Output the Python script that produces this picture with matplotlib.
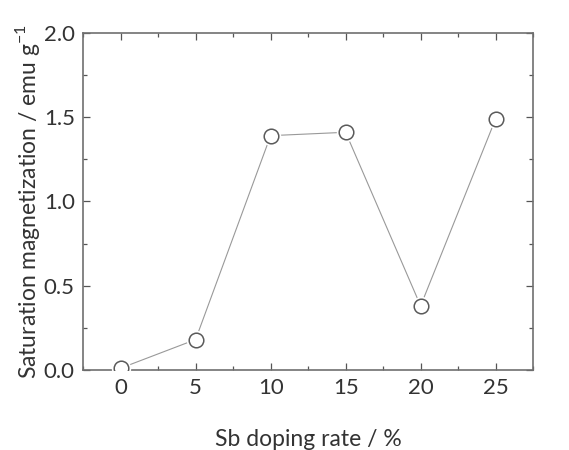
import numpy as np
import matplotlib.pyplot as plt
from matplotlib.ticker import MultipleLocator

# Data
dopingRate = [0, 5, 10, 15, 20, 25]
satMag     = [0.01, 0.18, 1.39, 1.41, 0.38, 1.49]

plt.rcParams['font.family'] = ['Lato', 'DejaVu Sans']
plt.rcParams['mathtext.fontset'] = 'custom'
plt.rcParams['mathtext.rm'] = 'Lato'

fig = plt.figure(figsize=(5.69, 4.5), dpi=100)
ax = fig.add_axes([0.146, 0.178, 0.791, 0.749])

ax.plot(dopingRate, satMag, color="#999999", lw=0.8, zorder=2)
# white halo so the line stops short of each marker
ax.plot(dopingRate, satMag, ls="none", marker="o", ms=14, mfc="white",
        mec="white", mew=0, zorder=3)
ax.plot(dopingRate, satMag, ls="none", marker="o", ms=10.5, mfc="white",
        mec="#5a5a5a", mew=1.1, zorder=4)

ax.set_xlim(-2.5, 27.5)
ax.set_ylim(0.0, 2.0)
ax.xaxis.set_major_locator(MultipleLocator(5))
ax.xaxis.set_minor_locator(MultipleLocator(2.5))
ax.yaxis.set_major_locator(MultipleLocator(0.5))
ax.yaxis.set_minor_locator(MultipleLocator(0.25))
ax.set_yticks([0.0, 0.5, 1.0, 1.5, 2.0])
ax.set_yticklabels(["0.0", "0.5", "1.0", "1.5", "2.0"])

ax.tick_params(which="both", direction="in", top=True, right=True,
               color="#555555", labelsize=16, labelcolor="#333333")
ax.tick_params(which="major", length=5, width=0.9, pad=6)
ax.tick_params(which="minor", length=3, width=0.9)
for s in ax.spines.values():
    s.set_color("#707070")
    s.set_linewidth(1.2)

ax.set_xlabel("Sb doping rate / %", fontsize=16.5, color="#333333", labelpad=22)
ax.set_ylabel("Saturation magnetization / emu g$^{-1}$", fontsize=16.5,
              color="#333333", labelpad=1)

fig.savefig("out.png", dpi=100)
